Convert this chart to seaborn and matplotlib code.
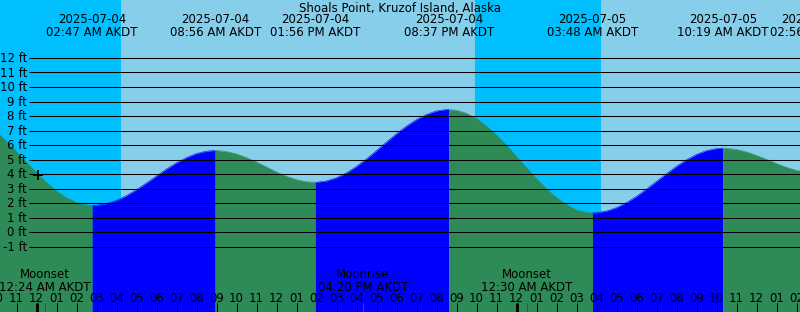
import matplotlib
matplotlib.use("Agg")
import matplotlib.pyplot as plt
import seaborn as sns
import pandas as pd
from datetime import datetime

# ---------------- data ----------------
title = "Shoals Point, Kruzof Island, Alaska"
base_date = "2025-07-04"
tz = "AKDT"

tide_dates = ["2025-07-04", "2025-07-04", "2025-07-04", "2025-07-04",
              "2025-07-05", "2025-07-05", "2025-07-05"]
tide_times = ["02:47 AM", "08:56 AM", "01:56 PM", "08:37 PM",
              "03:48 AM", "10:19 AM", "02:56 PM"]
tide_heights = [1.84, 5.63, 3.44, 8.45, 1.33, 5.79, 4.10]
tide_kinds = ["low", "high", "low", "high", "low", "high", "low"]

# tide height (ft) read every half hour (hours after midnight 2025-07-04, -2 .. 39)
curve_hours = [k / 2 for k in range(-4, 79)]
curve_heights = [
    6.92, 6.26, 5.55, 4.81, 4.09, 3.43, 2.84, 2.37, 2.04, 1.87,   # -2 .. 2.5
    1.85, 1.97, 2.19, 2.52, 2.93, 3.39, 3.87, 4.35, 4.78, 5.14,   # 3 .. 7.5
    5.42, 5.58, 5.63, 5.56, 5.39, 5.14, 4.83, 4.49, 4.15, 3.85,   # 8 .. 12.5
    3.62, 3.48, 3.44, 3.53, 3.75, 4.09, 4.53, 5.05, 5.62, 6.21,   # 13 .. 17.5
    6.78, 7.31, 7.76, 8.11, 8.35, 8.45, 8.40, 8.19, 7.82, 7.31,   # 18 .. 22.5
    6.69, 5.98, 5.21, 4.44, 3.68, 2.99, 2.38, 1.89, 1.54, 1.36,   # 23 .. 27.5
    1.34, 1.46, 1.69, 2.04, 2.47, 2.97, 3.50, 4.03, 4.54, 4.99,   # 28 .. 32.5
    5.36, 5.62, 5.76, 5.78, 5.70, 5.53, 5.29, 5.02, 4.73, 4.47,   # 33 .. 37.5
    4.26, 4.14, 4.11,                                             # 38 .. 39
]

moon_events = ["Moonset", "Moonrise", "Moonset"]
moon_dates = ["2025-07-04", "2025-07-04", "2025-07-05"]
moon_times = ["12:24 AM", "04:20 PM", "12:30 AM"]

sun_events = ["sunrise", "sunset", "sunrise"]
sun_dates = ["2025-07-04", "2025-07-04", "2025-07-05"]
sun_times = ["04:14 AM", "09:56 PM", "04:14 AM"]

now_date, now_time, now_height = "2025-07-04", "12:04 AM", 3.97

height_ticks = list(range(-1, 13))

# colours
NIGHT = "#00BFFF"
DAY = "#87CEEB"
FALLING = "#2E8B57"
RISING = "#0000FF"


def to_hours(d, t):
    dt = datetime.strptime(d + " " + t, "%Y-%m-%d %I:%M %p")
    return (dt - datetime.strptime(base_date, "%Y-%m-%d")).total_seconds() / 3600.0


tide_h = [to_hours(d, t) for d, t in zip(tide_dates, tide_times)]
moon_h = [to_hours(d, t) for d, t in zip(moon_dates, moon_times)]
sun_h = [to_hours(d, t) for d, t in zip(sun_dates, sun_times)]

# ---------------- figure ----------------
sns.set_theme(style="white")
plt.rcParams["font.family"] = ["DejaVu Sans"]
FS = 8.5
W, H = 800, 312
fig = plt.figure(figsize=(W / 100, H / 100), dpi=100)
ax = fig.add_axes([0, 0, 1, 1])

PX_PER_H = 20.0
X_MID = 36.5          # pixel of midnight 07-04
PX_PER_FT = 14.52
Y_ZERO = 232.2        # pixel of 0 ft
x_lo = (0 - X_MID) / PX_PER_H
x_hi = (W - X_MID) / PX_PER_H
y_hi = Y_ZERO / PX_PER_FT
y_lo = (Y_ZERO - H) / PX_PER_FT
ax.set_xlim(x_lo, x_hi)
ax.set_ylim(y_lo, y_hi)
ax.axis("off")


def fy(py):
    return 1 - py / H


# sky: night / day
bounds = [x_lo] + sun_h + [x_hi]
state_night = sun_events[0] == "sunrise"
for a, b in zip(bounds[:-1], bounds[1:]):
    ax.axvspan(a, b, color=NIGHT if state_night else DAY, lw=0, zorder=0)
    state_night = not state_night

# tide fill, split at extremes
pts = pd.DataFrame({"hour": curve_hours + tide_h,
                    "height": curve_heights + tide_heights})
pts = pts.sort_values("hour").drop_duplicates("hour").reset_index(drop=True)
seg_bounds = [min(curve_hours)] + tide_h + [max(curve_hours)]
rows = []
for i, (a, b) in enumerate(zip(seg_bounds[:-1], seg_bounds[1:])):
    if i < len(tide_kinds):
        falling = tide_kinds[i] == "low"
    else:
        falling = tide_kinds[-1] == "high"
    seg = pts[(pts.hour >= a) & (pts.hour <= b)]
    col = FALLING if falling else RISING
    ax.fill_between(seg.hour, seg.height, y_lo, color=col, lw=0, zorder=1)
    for _, r in seg.iterrows():
        rows.append({"hour": r.hour, "height": r.height, "seg": i,
                     "phase": "falling" if falling else "rising"})
curve_df = pd.DataFrame(rows)
sns.lineplot(data=curve_df, x="hour", y="height", hue="phase", units="seg",
             estimator=None, palette={"falling": FALLING, "rising": RISING},
             legend=False, lw=0.4, ax=ax, zorder=2)

# horizontal grid lines
ax.hlines(height_ticks, 29 / W, 1, transform=ax.get_yaxis_transform(),
          colors="black", lw=0.75, zorder=3)
for ft in height_ticks:
    py = Y_ZERO - ft * PX_PER_FT
    ax.text(27 / W, fy(py + 4.3), f"{ft} ft", transform=ax.transAxes,
            ha="right", va="baseline", fontsize=FS, color="black", zorder=4)

# current level marker
ax.plot([to_hours(now_date, now_time)], [now_height], marker="+", ms=7,
        mew=1.3, color="black", zorder=5)

# title
ax.text(0.5, fy(11.7), title, transform=ax.transAxes, ha="center",
        va="baseline", fontsize=FS, color="black", zorder=6)

xt = ax.get_xaxis_transform()

# extreme labels
for hh, d, t in zip(tide_h, tide_dates, tide_times):
    ax.text(hh, fy(23.4), d, transform=xt, ha="center",
            va="baseline", fontsize=FS, color="black", zorder=6)
    ax.text(hh, fy(35.6), f"{t} {tz}", transform=xt,
            ha="center", va="baseline", fontsize=FS, color="black", zorder=6)

# moon labels
for hh, ev, t in zip(moon_h, moon_events, moon_times):
    ax.text(hh, fy(278.5), ev, transform=xt, ha="center",
            va="baseline", fontsize=FS, color="black", zorder=6)
    ax.text(hh, fy(290.6), f"{t} {tz}", transform=xt,
            ha="center", va="baseline", fontsize=FS, color="black", zorder=6)

# hour labels and ticks
hour_ticks = list(range(-2, 40))
for hh in hour_ticks:
    lab = f"{(hh % 12) or 12:02d}"
    ax.text(hh, fy(302.2), lab, transform=xt, ha="center", va="baseline",
            fontsize=FS, color="black", zorder=6)
ax.vlines(hour_ticks, 0, fy(303), transform=xt, colors="black", lw=0.75, zorder=6)
midnights = [hh for hh in hour_ticks if hh % 24 == 0]
ax.vlines(midnights, 0, fy(303), transform=xt, colors="black", lw=2.0, zorder=6)
ax.vlines(moon_h, 0, fy(303), transform=xt, colors="red", lw=0.75, zorder=7)

fig.savefig("out.png", dpi=100)
